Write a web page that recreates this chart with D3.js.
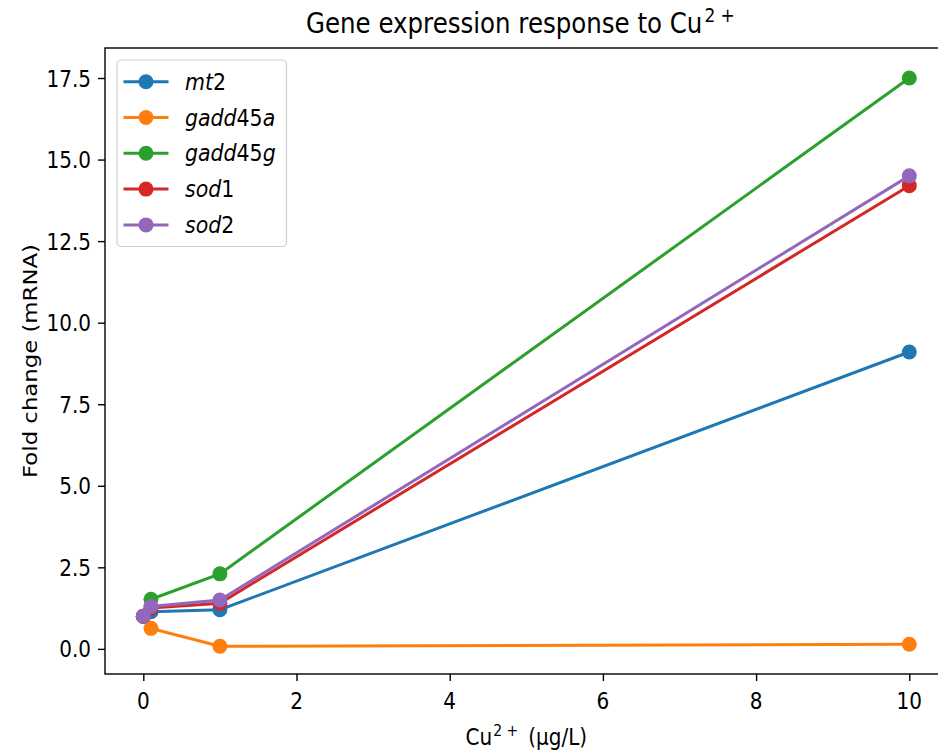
<!DOCTYPE html>
<html><head><meta charset="utf-8">
<script src="https://cdn.jsdelivr.net/npm/d3@7"></script>
<style>body{margin:0;background:#fff}svg{display:block}text{font-family:"DejaVu Sans",sans-serif;fill:#000}</style>
</head><body>
<script>
const doses = [0, 0.1, 1, 10];
const genes = [["mt","2"],["gadd","45","a"],["gadd","45","g"],["sod","1"],["sod","2"]];
const mt2     = [1.0, 1.14, 1.2, 9.1];
const gadd45a = [1.0, 0.63, 0.08, 0.14];
const gadd45g = [1.0, 1.52, 2.3, 17.5];
const sod1    = [1.0, 1.25, 1.4, 14.2];
const sod2    = [1.0, 1.3, 1.5, 14.5];
const seriesValues = [mt2, gadd45a, gadd45g, sod1, sod2];
const colors = ["#1f77b4","#ff7f0e","#2ca02c","#d62728","#9467bd"];
const xTicks = [0,2,4,6,8,10];
const yTicks = [0,2.5,5,7.5,10,12.5,15,17.5];

const W=938,H=753, SY=1.14;
const m={left:105,top:48,right:947.6,bottom:674};
const svg=d3.select("body").append("svg").attr("width",W).attr("height",H);
const x=d3.scaleLinear().domain([-0.5,10.5]).range([m.left,m.right]);
const y=d3.scaleLinear().domain([-0.77,18.42]).range([m.bottom,m.top]);

function stxt(g,px,py,size,anchor){
  return g.append("text").attr("transform",`translate(${px},${py}) scale(1,${SY})`)
    .attr("font-size",size).attr("text-anchor",anchor||"start");
}

const xa=svg.append("g").attr("transform",`translate(0,${m.bottom})`)
  .call(d3.axisBottom(x).tickValues(xTicks).tickSizeOuter(0).tickSize(7));
const ya=svg.append("g").attr("transform",`translate(${m.left},0)`)
  .call(d3.axisLeft(y).tickValues(yTicks).tickSizeOuter(0).tickSize(7));
[xa,ya].forEach(a=>{a.selectAll("text").remove();
  a.selectAll("line").attr("stroke","#000").attr("stroke-width",1.4);a.select(".domain").remove();});
xTicks.forEach(v=>stxt(svg,x(v),709,20,"middle").text(d3.format("d")(v)));
yTicks.forEach(v=>stxt(svg,91,y(v)+8.5,20,"end").text(d3.format(".1f")(v)));

svg.append("rect").attr("x",m.left).attr("y",m.top).attr("width",m.right-m.left).attr("height",m.bottom-m.top)
  .attr("fill","none").attr("stroke","#000").attr("stroke-width",1.4);

svg.append("clipPath").attr("id","c").append("rect").attr("x",m.left).attr("y",m.top).attr("width",m.right-m.left).attr("height",m.bottom-m.top);
const plot=svg.append("g").attr("clip-path","url(#c)");
const line=d3.line().x((d,i)=>x(doses[i])).y(d=>y(d));
seriesValues.forEach((vals,k)=>{
  plot.append("path").datum(vals).attr("d",line).attr("fill","none").attr("stroke",colors[k]).attr("stroke-width",3);
  plot.selectAll(null).data(vals).enter().append("circle").attr("cx",(d,i)=>x(doses[i])).attr("cy",d=>y(d)).attr("r",7.5).attr("fill",colors[k]);
});

const t=stxt(svg,306,33,24.5,"start");
t.append("tspan").text("Gene expression response to Cu");
t.append("tspan").text("2 +").attr("font-size",17).attr("dy",-10).attr("dx",2);
const xl=stxt(svg,(m.left+m.right)/2,745,20,"middle");
xl.append("tspan").text("Cu");
xl.append("tspan").text("2 +").attr("font-size",14).attr("dy",-8).attr("dx",1);
xl.append("tspan").text("\u2002(\u00b5g/L)").attr("dy",8);
svg.append("text").attr("transform",`translate(37,${(m.top+m.bottom)/2}) scale(1,${SY}) rotate(-90)`)
  .attr("text-anchor","middle").attr("font-size",20).text("Fold change (mRNA)");

const lg=svg.append("g");
lg.append("rect").attr("x",117).attr("y",60).attr("width",169.5).attr("height",186.5).attr("rx",4)
  .attr("fill","#fff").attr("fill-opacity",0.8).attr("stroke","#d0d0d0").attr("stroke-width",1.2);
genes.forEach((g,k)=>{
  const yy=81.7+k*35.8;
  lg.append("line").attr("x1",123.5).attr("x2",168.5).attr("y1",yy).attr("y2",yy).attr("stroke",colors[k]).attr("stroke-width",3);
  lg.append("circle").attr("cx",146).attr("cy",yy).attr("r",7.5).attr("fill",colors[k]);
  const tx=stxt(lg,185,yy+8,20.5,"start");
  g.forEach(part=>{tx.append("tspan").text(part).attr("font-style",/\d/.test(part)?"normal":"italic");});
});
</script>
</body></html>
